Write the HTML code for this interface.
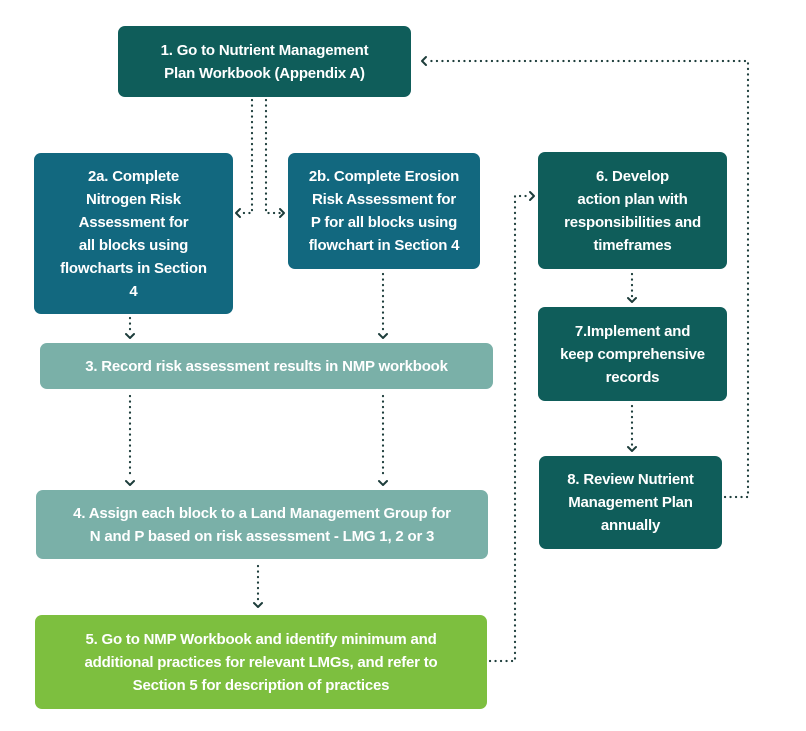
<!DOCTYPE html>
<html><head><meta charset="utf-8"><style>
body{margin:0;width:806px;height:731px;background:#fff;position:relative;overflow:hidden;font-family:"Liberation Sans",sans-serif;}
.b{position:absolute;border-radius:7px;color:#fff;font-weight:bold;font-size:15px;line-height:23px;text-align:center;display:flex;align-items:center;justify-content:center;box-sizing:border-box;letter-spacing:-0.2px}
.d{background:#0f5d5a}.m{background:#12687f}.l{background:#7ab0a8}.g{background:#7dbf3f}
svg{position:absolute;left:0;top:0}
</style></head><body>
<svg width="806" height="731">
<g fill="none" stroke="#1d3d3b" stroke-width="2.2" stroke-dasharray="0.1 5.4" stroke-linecap="round">
<path d="M252 100V213H240"/><path d="M266 100V213H280"/>
<path d="M130 318V334"/><path d="M383 274V334"/>
<path d="M130 396V478"/><path d="M383 396V478"/>
<path d="M258 566V602"/>
<path d="M490 661H515V196H530"/>
<path d="M632 274V298"/><path d="M632 406V446"/>
<path d="M725 497H748V61H428"/>
</g>
<g fill="none" stroke="#1d3d3b" stroke-width="2" stroke-linecap="round" stroke-linejoin="round">
<path d="M240 209l-4 4 4 4"/><path d="M280 209l4 4-4 4"/>
<path d="M126 334l4 4 4-4"/><path d="M379 334l4 4 4-4"/>
<path d="M126 481l4 4 4-4"/><path d="M379 481l4 4 4-4"/>
<path d="M254 603l4 4 4-4"/>
<path d="M530 192l4 4-4 4"/>
<path d="M628 298l4 4 4-4"/><path d="M628 447l4 4 4-4"/>
<path d="M426 57l-4 4 4 4"/>
</g>
</svg>
<div class="b d" style="left:118px;top:26px;width:293px;height:71px">1. Go to Nutrient Management<br>Plan Workbook (Appendix A)</div>
<div class="b m" style="left:34px;top:153px;width:199px;height:161px">2a. Complete<br>Nitrogen Risk<br>Assessment for<br>all blocks using<br>flowcharts in Section<br>4</div>
<div class="b m" style="left:288px;top:153px;width:192px;height:116px">2b. Complete Erosion<br>Risk Assessment for<br>P for all blocks using<br>flowchart in Section 4</div>
<div class="b l" style="left:40px;top:343px;width:453px;height:46px">3. Record risk assessment results in NMP workbook</div>
<div class="b l" style="left:36px;top:490px;width:452px;height:69px">4. Assign each block to a Land Management Group for<br>N and P based on risk assessment - LMG 1, 2 or 3</div>
<div class="b g" style="left:35px;top:615px;width:452px;height:94px">5. Go to NMP Workbook and identify minimum and<br>additional practices for relevant LMGs, and refer to<br>Section 5 for description of practices</div>
<div class="b d" style="left:538px;top:152px;width:189px;height:117px">6. Develop<br>action plan with<br>responsibilities and<br>timeframes</div>
<div class="b d" style="left:538px;top:307px;width:189px;height:94px">7.Implement and<br>keep comprehensive<br>records</div>
<div class="b d" style="left:539px;top:456px;width:183px;height:93px">8. Review Nutrient<br>Management Plan<br>annually</div>
</body></html>
